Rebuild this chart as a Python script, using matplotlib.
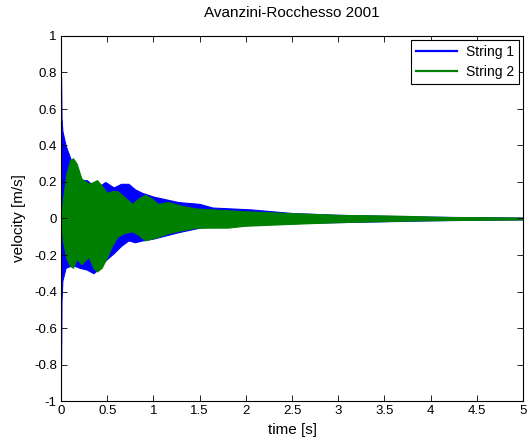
import matplotlib
matplotlib.use("Agg")
import matplotlib.pyplot as plt
import numpy as np

plt.rcParams["font.family"] = ["Liberation Sans", "DejaVu Sans"]

# envelope of string 1 (blue)
t1 = [0.0, 0.005, 0.015, 0.05, 0.1, 0.15, 0.2, 0.28, 0.35, 0.42, 0.48, 0.57, 0.65, 0.73,
      0.8, 0.88, 1.0, 1.27, 1.5, 1.64, 2.05, 2.5, 3.0, 3.5, 4.0, 4.5, 5.0]
s1_up = [0.78, 0.55, 0.48, 0.40, 0.33, 0.25, 0.21, 0.21, 0.18, 0.18, 0.20, 0.17, 0.19, 0.19,
         0.16, 0.14, 0.12, 0.09, 0.08, 0.06, 0.05, 0.03, 0.02, 0.015, 0.01, 0.007, 0.005]
s1_lo = [-0.80, -0.45, -0.34, -0.27, -0.26, -0.26, -0.27, -0.28, -0.30, -0.27, -0.23, -0.19, -0.15, -0.12,
         -0.13, -0.12, -0.11, -0.075, -0.05, -0.045, -0.035, -0.025, -0.02, -0.015, -0.01, -0.007, -0.005]

# envelope of string 2 (green)
t2 = [0.0, 0.02, 0.06, 0.1, 0.13, 0.17, 0.22, 0.3, 0.35, 0.39, 0.44, 0.5, 0.55, 0.61, 0.68,
      0.77, 0.84, 0.91, 0.98, 1.05, 1.16, 1.3, 1.46, 1.81, 1.98, 2.46, 3.0, 3.68, 4.2, 5.0]
s2_up = [0.0, 0.10, 0.25, 0.32, 0.33, 0.30, 0.22, 0.19, 0.20, 0.21, 0.18, 0.14, 0.15, 0.15, 0.12,
         0.08, 0.11, 0.13, 0.11, 0.08, 0.09, 0.07, 0.055, 0.045, 0.04, 0.03, 0.02, 0.015, 0.008, 0.005]
s2_lo = [0.0, -0.12, -0.22, -0.26, -0.27, -0.22, -0.25, -0.21, -0.27, -0.29, -0.27, -0.21, -0.15, -0.10, -0.08,
         -0.07, -0.09, -0.12, -0.11, -0.10, -0.08, -0.065, -0.05, -0.05, -0.04, -0.03, -0.02, -0.012, -0.008, -0.005]

fig = plt.figure(figsize=(5.27, 4.44), dpi=100)
ax = fig.add_axes([61 / 527, 43 / 444, 462 / 527, 365 / 444])

ax.fill_between(t1, s1_lo, s1_up, color="#0000ff", lw=0.8, edgecolor="#0000ff")
ax.fill_between(t2, s2_lo, s2_up, color="#008000", lw=0.8, edgecolor="#008000")
ax.plot([], [], color="#0000ff", lw=1.6, label="String 1")
ax.plot([], [], color="#008000", lw=1.6, label="String 2")

ax.set_xlim(0, 5)
ax.set_ylim(-1, 1)
ax.set_xticks(np.arange(0, 5.01, 0.5))
ax.set_xticklabels(["0", "0.5", "1", "1.5", "2", "2.5", "3", "3.5", "4", "4.5", "5"])
yt = np.round(np.arange(-1, 1.01, 0.2), 1)
ax.set_yticks(yt)
ax.set_yticklabels(["%g" % v if v != 0 else "0" for v in yt])
ax.tick_params(direction="in", top=True, right=True, length=4, width=0.6, labelsize=9.5, pad=3)
for sp in ax.spines.values():
    sp.set_linewidth(0.8)

ax.set_title("Avanzini-Rocchesso 2001", fontsize=11, pad=14)
ax.set_xlabel("time [s]", fontsize=11, labelpad=4)
ax.set_ylabel("velocity [m/s]", fontsize=11, labelpad=6)

leg = ax.legend(loc="upper right", fontsize=10, frameon=True, fancybox=False,
                edgecolor="black", framealpha=1, borderaxespad=0.3, handlelength=3.0,
                borderpad=0.35, labelspacing=0.45, handletextpad=0.6)
leg.get_frame().set_linewidth(0.8)

fig.savefig("out.png", dpi=100, facecolor="white")
